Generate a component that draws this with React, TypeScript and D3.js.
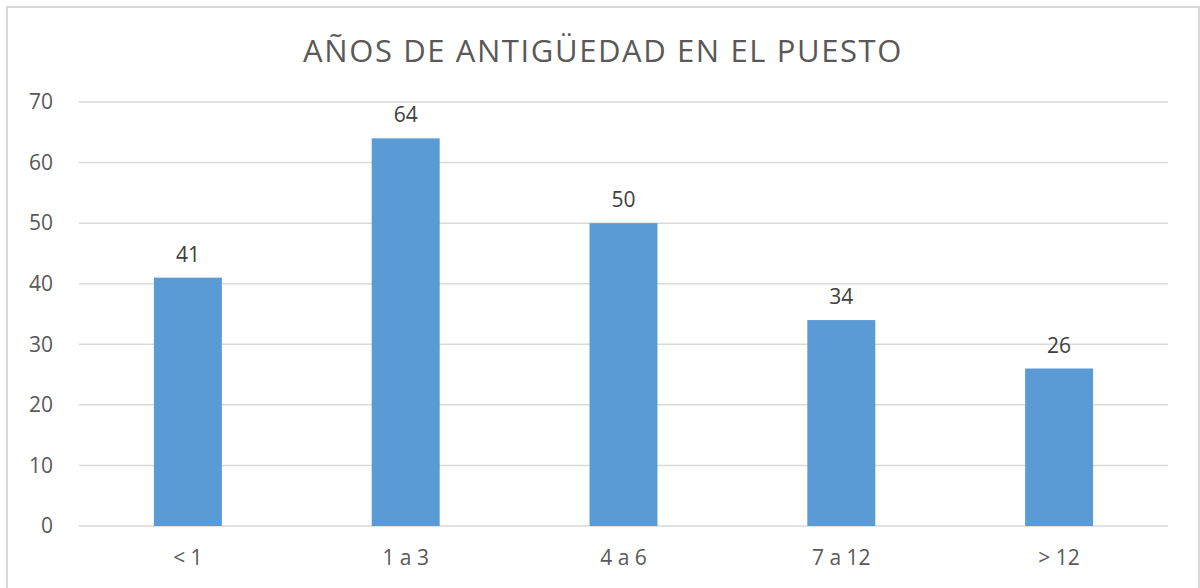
import * as d3 from "d3";

const categories = ["< 1", "1 a 3", "4 a 6", "7 a 12", "> 12"];
const values = [41, 64, 50, 34, 26];
const yTicks = [0, 10, 20, 30, 40, 50, 60, 70];
const title = "AÑOS DE ANTIGÜEDAD EN EL PUESTO";

const W = 1200;
const H = 588;
const FONT = "'Open Sans', 'Noto Sans', sans-serif";
const TEXT = "#595959";

export default function App() {
  const x = d3
    .scaleBand<string>()
    .domain(categories)
    .range([79, 1168])
    .paddingInner(0.688)
    .paddingOuter(0.344);
  const y = d3.scaleLinear().domain([0, 70]).range([526, 102]);

  return (
    <svg
      width={W}
      height={H}
      style={{ position: "absolute", left: 0, top: 0, background: "#fff" }}
      fontFamily={FONT}
    >
      <rect x={7} y={7} width={1192} height={620} fill="#fff" stroke="#d9d9d9" strokeWidth={2} />
      <text x={603} y={62} textAnchor="middle" fontSize={31} letterSpacing={1.6} fill={TEXT}>
        {title}
      </text>
      {/* gridlines + y labels */}
      {yTicks.map((t) => (
        <g key={t}>
          <line x1={79} x2={1168} y1={y(t)} y2={y(t)} stroke="#d9d9d9" strokeWidth={1.5} />
          <text x={53} y={y(t)} dy="0.35em" textAnchor="end" fontSize={21} fill={TEXT}>
            {t}
          </text>
        </g>
      ))}
      {/* bars */}
      {categories.map((c, i) => (
        <g key={c}>
          <rect
            x={x(c)}
            y={y(values[i])}
            width={x.bandwidth()}
            height={y(0) - y(values[i])}
            fill="#5b9bd5"
          />
          <text
            x={(x(c) ?? 0) + x.bandwidth() / 2}
            y={y(values[i]) - 16}
            textAnchor="middle"
            fontSize={21}
            fill="#404040"
          >
            {values[i]}
          </text>
          <text
            x={(x(c) ?? 0) + x.bandwidth() / 2}
            y={565}
            textAnchor="middle"
            fontSize={21}
            fill={TEXT}
          >
            {c}
          </text>
        </g>
      ))}
    </svg>
  );
}
